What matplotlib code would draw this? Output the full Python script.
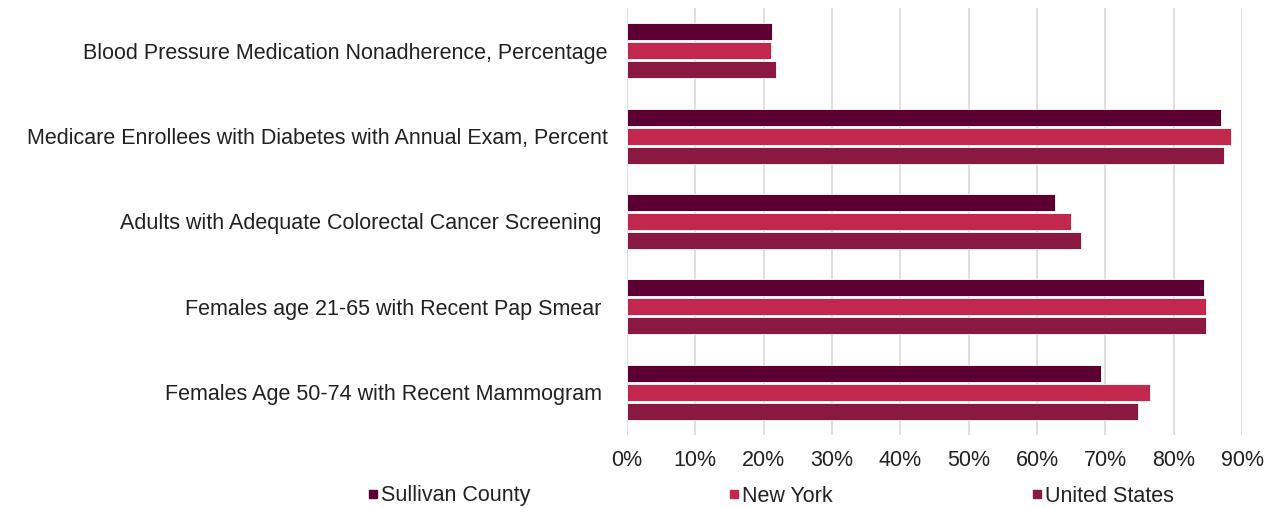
import numpy as np
import matplotlib.pyplot as plt
from matplotlib.lines import Line2D

plt.rcParams['font.family'] = ['Liberation Sans', 'DejaVu Sans']

categories = [
    'Blood Pressure Medication Nonadherence, Percentage',
    'Medicare Enrollees with Diabetes with Annual Exam, Percent',
    'Adults with Adequate Colorectal Cancer Screening ',
    'Females age 21-65 with Recent Pap Smear ',
    'Females Age 50-74 with Recent Mammogram ',
]
series = ['Sullivan County', 'New York', 'United States']
sullivan = [21.2, 86.9, 62.7, 84.4, 69.3]
new_york = [21.1, 88.4, 65.0, 84.7, 76.6]
united_states = [21.8, 87.4, 66.5, 84.7, 74.8]
colors = ['#5C0033', '#C2284D', '#8A1942']

fig = plt.figure(figsize=(12.86, 5.08), dpi=100)
ax = fig.add_axes([627 / 1286, 1 - 435 / 508, (1242 - 627) / 1286, 427 / 508])

y = np.arange(len(categories))
h = 0.2
step = 0.222
for i, vals in enumerate([sullivan, new_york, united_states]):
    ax.barh(y + (i - 1) * step, vals, height=h, color=colors[i],
            edgecolor='white', linewidth=0.6, zorder=3)

ax.set_ylim(len(categories) - 0.5, -0.5)
ax.set_xlim(0, 90)
ax.set_xticks(np.arange(0, 91, 10))
ax.set_xticklabels([f'{v}%' for v in range(0, 91, 10)])
ax.set_yticks(y)
ax.set_yticklabels(categories)
ax.tick_params(axis='both', length=0, labelsize=15.5, colors='#222222')
ax.tick_params(axis='y', pad=14)
ax.tick_params(axis='x', pad=11)
ax.grid(axis='x', color='#D9D9D9', linewidth=1.2, zorder=0)
for s in ax.spines.values():
    s.set_visible(False)

handles = [Line2D([], [], marker='s', linestyle='none', markersize=5.5,
                  markerfacecolor=c, markeredgecolor=c) for c in colors]
fig.legend(handles, series, loc='center', bbox_to_anchor=(770 / 1286, 1 - 496 / 508),
           ncol=3, frameon=False, fontsize=15.5, columnspacing=9.2,
           handletextpad=0.05, handlelength=0.6, labelcolor='#222222')

fig.savefig('out.png', dpi=100)
